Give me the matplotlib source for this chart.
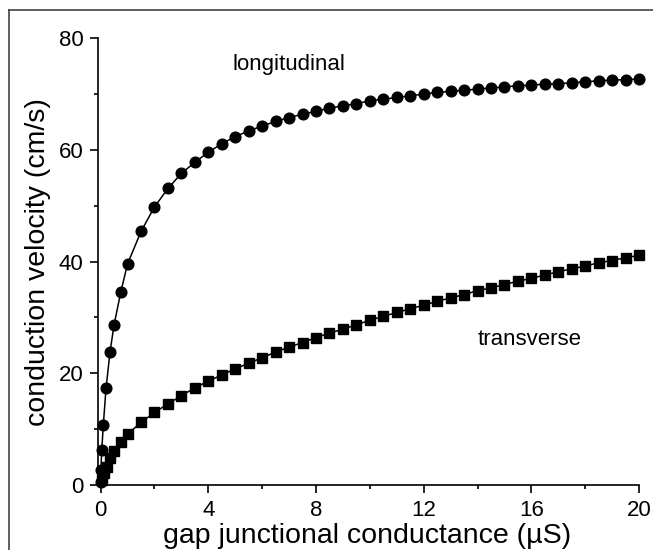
import matplotlib
matplotlib.use('Agg')
import matplotlib.pyplot as plt
from matplotlib.lines import Line2D
from matplotlib.ticker import MultipleLocator

plt.rcParams['font.family'] = ['Liberation Sans', 'DejaVu Sans']

# longitudinal data (circles)
g_long = [0.002, 0.01, 0.04, 0.1, 0.2, 0.35, 0.5, 0.75, 1.0,
          1.5, 2.0, 2.5, 3.0, 3.5, 4.0, 4.5, 5.0, 5.5, 6.0, 6.5, 7.0,
          7.5, 8.0, 8.5, 9.0, 9.5, 10.0, 10.5, 11.0, 11.5, 12.0, 12.5,
          13.0, 13.5, 14.0, 14.5, 15.0, 15.5, 16.0, 16.5, 17.0, 17.5,
          18.0, 18.5, 19.0, 19.5, 20.0]
v_long = [0.5, 2.7, 6.2, 10.8, 17.3, 23.9, 28.7, 34.6, 39.6,
          45.4, 49.8, 53.1, 55.8, 57.8, 59.6, 61.1, 62.4, 63.4, 64.3, 65.1, 65.8,
          66.4, 66.9, 67.5, 67.9, 68.3, 68.8, 69.1, 69.4, 69.7, 70.0, 70.3,
          70.5, 70.7, 70.9, 71.1, 71.3, 71.5, 71.6, 71.8, 71.9, 72.0,
          72.2, 72.4, 72.5, 72.6, 72.7]

# transverse data (squares)
g_trans = [0.04, 0.12, 0.25, 0.35, 0.5, 0.75, 1.0,
           1.5, 2.0, 2.5, 3.0, 3.5, 4.0, 4.5, 5.0, 5.5, 6.0, 6.5, 7.0,
           7.5, 8.0, 8.5, 9.0, 9.5, 10.0, 10.5, 11.0, 11.5, 12.0, 12.5,
           13.0, 13.5, 14.0, 14.5, 15.0, 15.5, 16.0, 16.5, 17.0, 17.5,
           18.0, 18.5, 19.0, 19.5, 20.0]
v_trans = [0.9, 2.1, 3.3, 4.8, 6.1, 7.7, 9.1,
           11.2, 13.0, 14.5, 16.0, 17.4, 18.6, 19.7, 20.8, 21.8, 22.8, 23.8, 24.7,
           25.5, 26.4, 27.2, 27.9, 28.7, 29.5, 30.2, 30.9, 31.55, 32.2, 32.9,
           33.5, 34.1, 34.8, 35.3, 35.9, 36.5, 37.0, 37.6, 38.2, 38.7,
           39.2, 39.8, 40.2, 40.7, 41.1]

xticks = [0, 4, 8, 12, 16, 20]
yticks = [0, 20, 40, 60, 80]

fig = plt.figure(figsize=(6.53, 5.5), dpi=100)
ax = fig.add_axes([0.150, 0.1182, 0.8286, 0.8122])

ax.plot(g_long, v_long, color='black', lw=1.1, marker='o', ms=7.7,
        clip_on=False, zorder=3)
ax.plot(g_trans, v_trans, color='black', lw=1.1, marker='s', ms=6.5,
        clip_on=False, zorder=3)

ax.set_xlim(-0.1, 20)
ax.set_ylim(0, 80)
ax.set_xticks(xticks)
ax.set_yticks(yticks)
ax.xaxis.set_minor_locator(MultipleLocator(2))
ax.yaxis.set_minor_locator(MultipleLocator(10))

for s in ['top', 'right']:
    ax.spines[s].set_visible(False)
for s in ['left', 'bottom']:
    ax.spines[s].set_linewidth(1.2)

ax.tick_params(which='major', direction='out', length=5.5, width=1.2,
               labelsize=16, pad=5)
ax.tick_params(which='minor', direction='out', length=3, width=1.2)

ax.set_xlabel('gap junctional conductance (µS)', fontsize=20.5)
ax.set_ylabel('conduction velocity (cm/s)', fontsize=20.5)
ax.xaxis.set_label_coords(0.497, -0.085)
ax.yaxis.set_label_coords(-0.087, 0.5)

ax.text(4.9, 74.3, 'longitudinal', fontsize=16, va='baseline')
ax.text(14.0, 25.1, 'transverse', fontsize=16, va='baseline')

# outer frame (top and left edges visible in the crop)
fig.add_artist(Line2D([9/653, 1], [1-10/550, 1-10/550], color='#333333', lw=1.1))
fig.add_artist(Line2D([9/653, 9/653], [0, 1-10/550], color='#333333', lw=1.1))

fig.savefig('out.png', dpi=100)
